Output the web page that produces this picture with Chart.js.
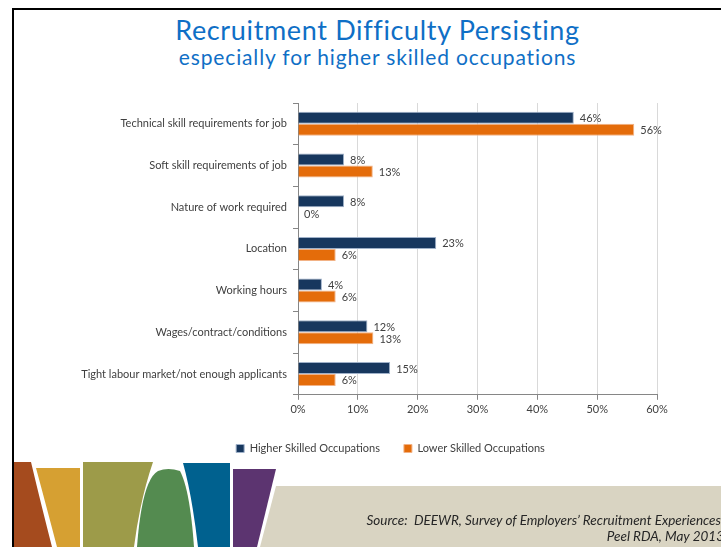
<!DOCTYPE html>
<html>
<head>
<meta charset="utf-8">
<script src="https://cdn.jsdelivr.net/npm/chart.js@4.4.1/dist/chart.umd.min.js"></script>
<style>
  html, body { margin: 0; padding: 0; background: #fff; overflow: hidden; }
  #page { position: relative; width: 721px; height: 547px; font-family: Lato, "Open Sans", sans-serif; }
  #chart { position: absolute; left: 0; top: 0; z-index: 2; }
  .title { position: absolute; left: 34px; right: 0; text-align: center; color: #0f6fc6; white-space: nowrap; font-variant-ligatures: none; }
  #t1 { top: 14px; font-size: 27px; line-height: 32px; letter-spacing: 0.65px; }
  #t2 { top: 45px; font-size: 21px; line-height: 24px; letter-spacing: 0.85px; }
  .border-top { position: absolute; left: 12px; right: 0; top: 8px; height: 2px; background: #000; z-index: 3; }
  .border-left { position: absolute; left: 12px; top: 8px; bottom: 0; width: 2px; background: #000; z-index: 3; }
  #deco { position: absolute; left: 0; top: 0; z-index: 1; }
  #source { position: absolute; right: -3px; top: 512px; text-align: right; font-style: italic; font-size: 13.5px; line-height: 16px; color: #262626; z-index: 3; }
</style>
</head>
<body>
<div id="page">
  <svg id="deco" width="721" height="547">
    <polygon fill="#d9d4c2" points="276,486 721,486 721,547 260,547"/>
    <path fill="#a54b1e" d="M13,462 L31,462 Q40,500 52,547 L13,547 Z"/>
    <path fill="#d6a032" d="M36,468 L80,468 L80,547 L57,547 Q46,505 36,468 Z"/>
    <path fill="#9d9b49" d="M83,462 L153,462 Q140,500 134,547 L83,547 Z"/>
    <path fill="#548b50" d="M137,547 Q142,480 158,471 Q168,467 180,471 Q190,490 194,547 Z"/>
    <path fill="#00618f" d="M183,463 L230,463 L230,547 L198,547 Q192,495 183,463 Z"/>
    <path fill="#5c3470" d="M233,469 L276,469 L257,547 L233,547 Z"/>
  </svg>
  <div class="border-top"></div>
  <div class="border-left"></div>
  <div id="t1" class="title">Recruitment Difficulty Persisting</div>
  <div id="t2" class="title">especially for higher skilled occupations</div>
  <canvas id="chart" width="721" height="547"></canvas>
  <div id="source">Source:&nbsp; DEEWR, Survey of Employers’ Recruitment Experiences,<br>Peel RDA, May 2013</div>
</div>
<script>
const categories = [
  "Technical skill requirements for job",
  "Soft skill requirements of job",
  "Nature of work required",
  "Location",
  "Working hours",
  "Wages/contract/conditions",
  "Tight labour market/not enough applicants"
];
const higherSkilled = [46.1, 7.7, 7.7, 23.1, 4.0, 11.6, 15.4];
const lowerSkilled = [56.2, 12.5, 0, 6.3, 6.3, 12.6, 6.3];
const seriesNames = ["Higher Skilled Occupations", "Lower Skilled Occupations"];
const xTicks = [0, 10, 20, 30, 40, 50, 60];

const textColor = "#404040";
const axisColor = "#868686";

// draws the "46%" style labels just past the end of each bar
const valueLabels = {
  id: "valueLabels",
  afterDatasetsDraw(chart) {
    const ctx = chart.ctx;
    ctx.save();
    ctx.font = "11px Lato";
    ctx.fillStyle = textColor;
    ctx.textAlign = "left";
    ctx.textBaseline = "middle";
    chart.data.datasets.forEach((ds, i) => {
      chart.getDatasetMeta(i).data.forEach((bar, j) => {
        ctx.fillText(Math.round(ds.data[j]) + "%", bar.x + 6, bar.y + 1);
      });
    });
    ctx.restore();
  }
};

// nudge the legend a little right of the canvas centre, as in the slide
const legendShift = {
  id: "legendShift",
  afterLayout(chart) {
    const lg = chart.legend;
    if (!lg) return;
    const dx = 390.5 - (lg.left + lg.right) / 2;
    lg.left += dx;
    lg.right += dx;
  }
};

new Chart(document.getElementById("chart"), {
  type: "bar",
  data: {
    labels: categories,
    datasets: [
      {
        label: seriesNames[0],
        data: higherSkilled,
        backgroundColor: "#17375e",
        borderColor: "#9fb1c9",
        borderWidth: 1,
        categoryPercentage: 0.575,
        barPercentage: 1
      },
      {
        label: seriesNames[1],
        data: lowerSkilled,
        backgroundColor: "#e46c0a",
        borderColor: "#f2b285",
        borderWidth: 1,
        categoryPercentage: 0.575,
        barPercentage: 1
      }
    ]
  },
  options: {
    indexAxis: "y",
    responsive: false,
    animation: false,
    devicePixelRatio: 1,
    layout: { padding: { left: 34, right: 64, top: 103, bottom: 83 } },
    scales: {
      x: {
        min: 0,
        max: 60,
        afterBuildTicks: (scale) => { scale.ticks = xTicks.map(v => ({ value: v })); },
        grid: { color: "#d9d9d9", tickColor: axisColor, tickLength: 5 },
        border: { color: axisColor },
        ticks: {
          color: textColor,
          font: { family: "Lato", size: 11 },
          padding: 3,
          callback: (v) => v + "%"
        }
      },
      y: {
        afterFit: (scale) => { scale.width = 264; },
        grid: { drawOnChartArea: false, color: axisColor, tickLength: 5 },
        border: { color: axisColor },
        ticks: {
          color: textColor,
          font: { family: "Lato", size: 11 },
          padding: 6
        }
      }
    },
    plugins: {
      legend: {
        position: "bottom",
        labels: {
          boxWidth: 8,
          boxHeight: 8,
          padding: 24,
          color: textColor,
          font: { family: "Lato", size: 11 }
        }
      },
      tooltip: { enabled: false }
    }
  },
  plugins: [valueLabels, legendShift]
});
</script>
</body>
</html>
